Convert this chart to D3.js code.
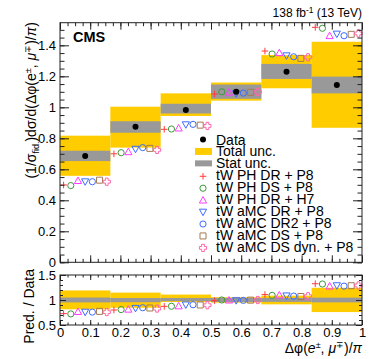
<!DOCTYPE html>
<html>
<head>
<meta charset="utf-8">
<script src="https://cdn.jsdelivr.net/npm/d3@7"></script>
<style>
  body { margin: 0; background: #fff; }
  text { font-family: "Liberation Sans", Arial, Helvetica, sans-serif; fill: #000; }
</style>
</head>
<body>
<div id="chart"></div>
<script>
// bins of dphi(e,mu)/pi
var binEdges = [0, 0.1667, 0.3333, 0.5, 0.6667, 0.8333, 1];

// measured normalised cross section and uncertainty bands
var dataVals = [0.686, 0.875, 0.983, 1.100, 1.230, 1.144];
var totalLo  = [0.558, 0.740, 0.944, 1.043, 1.123, 0.868];
var totalHi  = [0.817, 1.004, 1.090, 1.160, 1.337, 1.423];
var statLo   = [0.653, 0.836, 0.960, 1.055, 1.183, 1.090];
var statHi   = [0.720, 0.910, 1.023, 1.147, 1.280, 1.198];

// predictions
var predNames = ["tW PH DR + P8", "tW PH DS + P8", "tW PH DR + H7", "tW aMC DR + P8",
                 "tW aMC DR2 + P8", "tW aMC DS + P8", "tW aMC DS dyn. + P8"];
var phDrP8    = [0.499, 0.700, 0.858, 1.086, 1.363, 1.516];
var phDsP8    = [0.495, 0.707, 0.860, 1.100, 1.344, 1.510];
var phDrH7    = [0.527, 0.713, 0.866, 1.097, 1.352, 1.462];
var amcDrP8   = [0.520, 0.730, 0.888, 1.088, 1.333, 1.473];
var amcDr2P8  = [0.520, 0.740, 0.890, 1.092, 1.326, 1.462];
var amcDsP8   = [0.530, 0.735, 0.885, 1.097, 1.316, 1.471];
var amcDsDyn  = [0.520, 0.725, 0.880, 1.100, 1.323, 1.477];
var predVals = [phDrP8, phDsP8, phDrH7, amcDrP8, amcDr2P8, amcDsP8, amcDsDyn];
var predShapes = ["plus", "circle", "tri", "dtri", "circle", "square", "ocross"];
var predColors = ["#ff3b3b", "#3a9a3a", "#ff3cff", "#3d6bff", "#3d6bff", "#a47a52", "#ff66aa"];

// ticks
var yTickValues = [0, 0.2, 0.4, 0.6, 0.8, 1, 1.2, 1.4];
var yTickLabels = ["0", "0.2", "0.4", "0.6", "0.8", "1", "1.2", "1.4"];
var rTickValues = [0.5, 1, 1.5];
var rTickLabels = ["0.5", "1", "1.5"];
var xTickValues = [0, 0.1, 0.2, 0.3, 0.4, 0.5, 0.6, 0.7, 0.8, 0.9, 1];
var xTickLabels = ["0", "0.1", "0.2", "0.3", "0.4", "0.5", "0.6", "0.7", "0.8", "0.9", "1"];

var W = 374, H = 359;
var left = 60, right = 362;
var topY0 = 22.7, topY1 = 262.3;
var botY0 = 275, botY1 = 325;

var svg = d3.select("#chart").append("svg")
    .attr("width", W)
    .attr("height", H);

var x = d3.scaleLinear().domain([0, 1]).range([left, right]);
var y = d3.scaleLinear().domain([0, 1.546]).range([topY1, topY0]);
var yr = d3.scaleLinear().domain([0.5, 1.5]).range([botY1, botY0]);

function shapePath(kind, s) {
    if (kind == "plus") return "M" + (-s) + ",0H" + s + "M0," + (-s) + "V" + s;
    if (kind == "circle") return "M" + s + ",0A" + s + "," + s + " 0 1,1 " + (-s) + ",0A" + s + "," + s + " 0 1,1 " + s + ",0Z";
    if (kind == "tri") return "M0," + (-s) + "L" + s + "," + (s * 0.8) + "L" + (-s) + "," + (s * 0.8) + "Z";
    if (kind == "dtri") return "M0," + s + "L" + s + "," + (-s * 0.8) + "L" + (-s) + "," + (-s * 0.8) + "Z";
    if (kind == "square") return "M" + (-s) + "," + (-s) + "H" + s + "V" + s + "H" + (-s) + "Z";
    var a = s * 0.38;
    var p = [[-a,-s],[a,-s],[a,-a],[s,-a],[s,a],[a,a],[a,s],[-a,s],[-a,a],[-s,a],[-s,-a],[-a,-a]];
    return "M" + p.map(function(q) { return q.join(","); }).join("L") + "Z";
}
var shapeSize = {plus: 3.3, circle: 3.1, tri: 3.6, dtri: 3.6, square: 3.0, ocross: 3.6};

var bins = d3.range(dataVals.length);

// ---------- upper panel ----------
var upper = svg.append("g");

upper.selectAll("rect.tot")
    .data(bins)
    .enter().append("rect")
    .attr("class", "tot")
    .attr("x", function(i) { return x(binEdges[i]); })
    .attr("width", function(i) { return x(binEdges[i + 1]) - x(binEdges[i]); })
    .attr("y", function(i) { return y(totalHi[i]); })
    .attr("height", function(i) { return y(totalLo[i]) - y(totalHi[i]); })
    .attr("fill", "#ffcc00");

upper.selectAll("rect.stat")
    .data(bins)
    .enter().append("rect")
    .attr("class", "stat")
    .attr("x", function(i) { return x(binEdges[i]); })
    .attr("width", function(i) { return x(binEdges[i + 1]) - x(binEdges[i]); })
    .attr("y", function(i) { return y(statHi[i]); })
    .attr("height", function(i) { return y(statLo[i]) - y(statHi[i]); })
    .attr("fill", "#999999");

function markerX(i, k) {
    var lo = binEdges[i], hi = binEdges[i + 1];
    return x(lo + (k + 0.5) / 7 * (hi - lo));
}

predVals.forEach(function(series, k) {
    upper.selectAll("path.p" + k)
        .data(bins)
        .enter().append("path")
        .attr("class", "p" + k)
        .attr("d", shapePath(predShapes[k], shapeSize[predShapes[k]]))
        .attr("transform", function(i) { return "translate(" + markerX(i, k) + "," + y(series[i]) + ")"; })
        .attr("fill", "none")
        .attr("stroke", predColors[k])
        .attr("stroke-width", 1);
});

upper.selectAll("circle.data")
    .data(bins)
    .enter().append("circle")
    .attr("class", "data")
    .attr("cx", function(i) { return x((binEdges[i] + binEdges[i + 1]) / 2); })
    .attr("cy", function(i) { return y(dataVals[i]); })
    .attr("r", 3)
    .attr("fill", "#000");

// ---------- lower panel ----------
var lower = svg.append("g");

lower.selectAll("rect.tot")
    .data(bins)
    .enter().append("rect")
    .attr("x", function(i) { return x(binEdges[i]); })
    .attr("width", function(i) { return x(binEdges[i + 1]) - x(binEdges[i]); })
    .attr("y", function(i) { return yr(totalHi[i] / dataVals[i]); })
    .attr("height", function(i) { return yr(totalLo[i] / dataVals[i]) - yr(totalHi[i] / dataVals[i]); })
    .attr("fill", "#ffcc00");

lower.selectAll("rect.stat")
    .data(bins)
    .enter().append("rect")
    .attr("x", function(i) { return x(binEdges[i]); })
    .attr("width", function(i) { return x(binEdges[i + 1]) - x(binEdges[i]); })
    .attr("y", function(i) { return yr(statHi[i] / dataVals[i]); })
    .attr("height", function(i) { return yr(statLo[i] / dataVals[i]) - yr(statHi[i] / dataVals[i]); })
    .attr("fill", "#999999");

predVals.forEach(function(series, k) {
    lower.selectAll("path.p" + k)
        .data(bins)
        .enter().append("path")
        .attr("d", shapePath(predShapes[k], shapeSize[predShapes[k]]))
        .attr("transform", function(i) { return "translate(" + markerX(i, k) + "," + yr(series[i] / dataVals[i]) + ")"; })
        .attr("fill", "none")
        .attr("stroke", predColors[k])
        .attr("stroke-width", 1);
});

// ---------- axes ----------
function styleAxis(g, size) {
    g.select(".domain").remove();
    g.selectAll("line").attr("stroke", "#222");
    g.attr("font-size", size).attr("font-family", null);
    g.selectAll("text").attr("fill", "#000");
}

var xMinor = d3.range(0, 41).map(function(i) { return i * 0.025; });
var yMinor = d3.range(0, 31).map(function(i) { return i * 0.05; }).filter(function(v) { return v <= 1.546; });
var rMinor = d3.range(0, 11).map(function(i) { return 0.5 + i * 0.1; });

function addTicks(parent, axisFn, scale, tr, values, minorValues, majLen, minLen, labels, pad, size) {
    var g1 = parent.append("g").attr("transform", tr)
        .call(axisFn(scale).tickValues(minorValues).tickSize(-minLen).tickFormat(""));
    styleAxis(g1, size);
    var ax = axisFn(scale).tickValues(values).tickSize(-majLen).tickPadding(pad);
    if (labels) ax.tickFormat(function(d, i) { return labels[i]; });
    else ax.tickFormat("");
    var g2 = parent.append("g").attr("transform", tr).call(ax);
    styleAxis(g2, size);
    return g2;
}

// upper panel axes
addTicks(svg, d3.axisLeft, y, "translate(" + left + ",0)", yTickValues, yMinor, 9, 4.5, yTickLabels, 4, 13);
addTicks(svg, d3.axisRight, y, "translate(" + right + ",0)", yTickValues, yMinor, 9, 4.5, null, 4, 13);
addTicks(svg, d3.axisBottom, x, "translate(0," + topY1 + ")", xTickValues, xMinor, 7, 3.5, null, 4, 13);
addTicks(svg, d3.axisTop, x, "translate(0," + topY0 + ")", xTickValues, xMinor, 7, 3.5, null, 4, 13);

// lower panel axes
addTicks(svg, d3.axisLeft, yr, "translate(" + left + ",0)", rTickValues, rMinor, 6, 3, rTickLabels, 4, 13);
addTicks(svg, d3.axisRight, yr, "translate(" + right + ",0)", rTickValues, rMinor, 6, 3, null, 4, 13);
addTicks(svg, d3.axisBottom, x, "translate(0," + botY1 + ")", xTickValues, xMinor, 5, 2.5, xTickLabels, 3, 13);
addTicks(svg, d3.axisTop, x, "translate(0," + botY0 + ")", xTickValues, xMinor, 5, 2.5, null, 4, 13);

// frames
svg.append("rect")
    .attr("x", left).attr("y", topY0)
    .attr("width", right - left).attr("height", topY1 - topY0)
    .attr("fill", "none").attr("stroke", "#222").attr("stroke-width", 1);
svg.append("rect")
    .attr("x", left).attr("y", botY0)
    .attr("width", right - left).attr("height", botY1 - botY0)
    .attr("fill", "none").attr("stroke", "#222").attr("stroke-width", 1);

// ---------- texts ----------
svg.append("text")
    .attr("x", 73).attr("y", 42)
    .attr("font-size", 14.5).attr("font-weight", "bold")
    .text("CMS");

var lumi = svg.append("text")
    .attr("x", right).attr("y", 17)
    .attr("font-size", 12).attr("text-anchor", "end");
lumi.append("tspan").text("138 fb");
lumi.append("tspan").attr("font-size", 8.5).attr("dy", -4.5).text("-1");
lumi.append("tspan").attr("dy", 4.5).text(" (13 TeV)");

var yt = svg.append("text")
    .attr("transform", "translate(36," + (topY0 - 0.5) + ") rotate(-90)")
    .attr("text-anchor", "end")
    .attr("font-size", 14);
yt.append("tspan").text("(1/\u03c3");
yt.append("tspan").attr("font-size", 9).attr("dy", 3).text("fid.");
yt.append("tspan").attr("dy", -3).text(")d\u03c3/d(\u0394\u03c6(e");
yt.append("tspan").attr("font-size", 9).attr("dy", -5).text("\u00b1");
yt.append("tspan").attr("dy", 5).text(", ");
yt.append("tspan").attr("font-style", "italic").text("\u03bc");
yt.append("tspan").attr("font-size", 9).attr("dy", -5).text("\u2213");
yt.append("tspan").attr("dy", 5).text(")/");
yt.append("tspan").attr("font-style", "italic").text("\u03c0");
yt.append("tspan").text(")");

svg.append("text")
    .attr("transform", "translate(34,269) rotate(-90)")
    .attr("text-anchor", "end")
    .attr("font-size", 14)
    .text("Pred. / Data");

var xt = svg.append("text")
    .attr("x", right).attr("y", 353)
    .attr("text-anchor", "end")
    .attr("font-size", 14);
xt.append("tspan").text("\u0394\u03c6(");
xt.append("tspan").attr("font-style", "italic").text("e");
xt.append("tspan").attr("font-size", 9).attr("dy", -5).text("\u00b1");
xt.append("tspan").attr("dy", 5).text(", ");
xt.append("tspan").attr("font-style", "italic").text("\u03bc");
xt.append("tspan").attr("font-size", 9).attr("dy", -5).text("\u2213");
xt.append("tspan").attr("dy", 5).text(")/");
xt.append("tspan").attr("font-style", "italic").text("\u03c0");

// ---------- legend ----------
var legX = 203, legTextX = 216, legY = 139.5, legStep = 11.93;
var legend = svg.append("g");
var legLabels = ["Data", "Total unc.", "Stat unc."].concat(predNames);

legend.append("circle")
    .attr("cx", legX).attr("cy", legY).attr("r", 3).attr("fill", "#000");
legend.append("rect")
    .attr("x", legX - 8).attr("y", legY + legStep - 3.5)
    .attr("width", 17).attr("height", 7).attr("fill", "#ffcc00");
legend.append("rect")
    .attr("x", legX - 8).attr("y", legY + 2 * legStep - 3)
    .attr("width", 17).attr("height", 6).attr("fill", "#999999");

predNames.forEach(function(n, k) {
    legend.append("path")
        .attr("d", shapePath(predShapes[k], shapeSize[predShapes[k]]))
        .attr("transform", "translate(" + legX + "," + (legY + (k + 3) * legStep + 1) + ")")
        .attr("fill", "none")
        .attr("stroke", predColors[k])
        .attr("stroke-width", 1);
});

legend.selectAll("text")
    .data(legLabels)
    .enter().append("text")
    .attr("x", legTextX)
    .attr("y", function(d, i) { return legY + i * legStep; })
    .attr("dy", "0.36em")
    .attr("font-size", 14)
    .text(function(d) { return d; });
</script>
</body>
</html>
